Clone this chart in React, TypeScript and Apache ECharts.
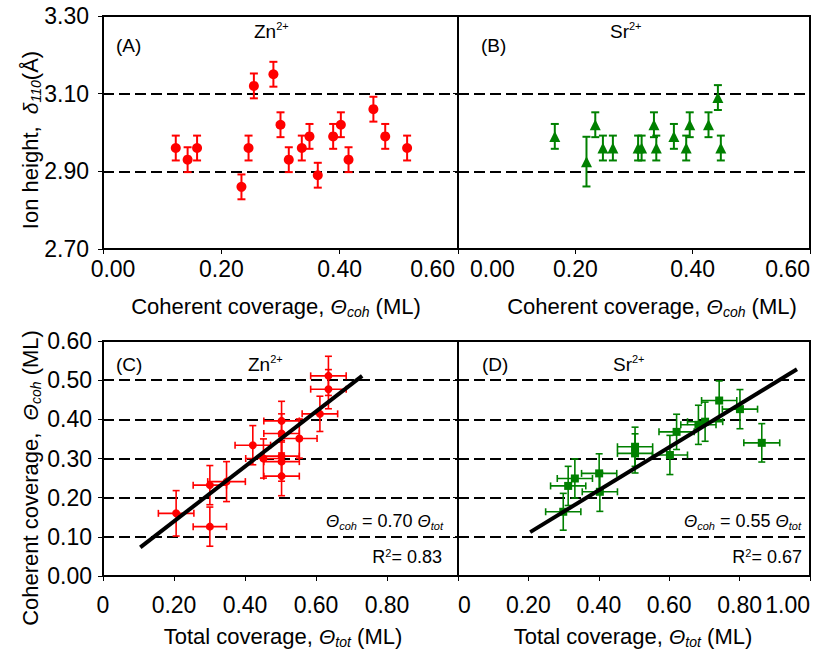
import React, { useEffect, useRef } from 'react';
import * as echarts from 'echarts';

// Panel A: Zn2+ ion height vs coherent coverage
const aCoh = [0.123, 0.143, 0.159, 0.234, 0.246, 0.255, 0.288, 0.300, 0.314, 0.336, 0.349, 0.363, 0.389, 0.402, 0.415, 0.457, 0.477, 0.514];
const aHeight = [2.96, 2.93, 2.96, 2.86, 2.96, 3.12, 3.15, 3.02, 2.93, 2.96, 2.99, 2.89, 2.99, 3.02, 2.93, 3.06, 2.99, 2.96];
const aErr = [0.032, 0.032, 0.032, 0.032, 0.032, 0.032, 0.032, 0.032, 0.032, 0.032, 0.032, 0.032, 0.032, 0.032, 0.032, 0.032, 0.032, 0.032];

// Panel B: Sr2+ ion height vs coherent coverage
const bCoh = [0.165, 0.219, 0.234, 0.247, 0.264, 0.307, 0.313, 0.334, 0.338, 0.368, 0.389, 0.395, 0.427, 0.443, 0.448];
const bHeight = [2.99, 2.925, 3.02, 2.96, 2.96, 2.96, 2.96, 3.02, 2.96, 2.99, 2.96, 3.02, 3.02, 3.09, 2.96];
const bErr = [0.032, 0.064, 0.032, 0.032, 0.032, 0.032, 0.032, 0.032, 0.032, 0.032, 0.032, 0.032, 0.032, 0.032, 0.032];

// Panel C: Zn2+ coherent vs total coverage
const cTot = [0.635, 0.635, 0.611, 0.503, 0.503, 0.553, 0.422, 0.452, 0.503, 0.503, 0.503, 0.301, 0.348, 0.206, 0.301];
const cCoh = [0.511, 0.477, 0.414, 0.396, 0.364, 0.351, 0.334, 0.300, 0.306, 0.292, 0.255, 0.232, 0.241, 0.160, 0.126];
const cTotErr = [0.05, 0.05, 0.05, 0.05, 0.05, 0.05, 0.05, 0.05, 0.05, 0.05, 0.05, 0.047, 0.053, 0.05, 0.047];
const cCohErr = [0.05, 0.05, 0.045, 0.05, 0.05, 0.05, 0.05, 0.05, 0.05, 0.05, 0.05, 0.05, 0.051, 0.058, 0.05];
const cFit = [[0.105, 0.073], [0.73, 0.511]];

// Panel D: Sr2+ coherent vs total coverage
const dTot = [0.742, 0.801, 0.702, 0.683, 0.621, 0.863, 0.602, 0.503, 0.503, 0.401, 0.332, 0.313, 0.299, 0.403];
const dCoh = [0.448, 0.426, 0.394, 0.386, 0.368, 0.340, 0.309, 0.330, 0.313, 0.262, 0.249, 0.230, 0.164, 0.215];
const dTotErr = [0.05, 0.05, 0.05, 0.05, 0.05, 0.051, 0.05, 0.05, 0.05, 0.05, 0.05, 0.05, 0.05, 0.05];
const dCohErr = [0.05, 0.05, 0.05, 0.05, 0.045, 0.049, 0.05, 0.05, 0.05, 0.05, 0.05, 0.05, 0.047, 0.05];
const dFit = [[0.205, 0.112], [0.963, 0.528]];

const FONT = '"Liberation Sans", Arial, Helvetica, sans-serif';
const RED = '#ff0000';
const GREEN = '#008000';
const TICK_FS = 23;

function errorBars(idx: number, xs: number[], ys: number[], xe: number[] | null, ye: number[], color: string, cap: number, lw: number) {
  return {
    type: 'custom',
    xAxisIndex: idx,
    yAxisIndex: idx,
    z: 3,
    encode: { x: 0, y: 1 },
    data: xs.map((x, i) => [x, ys[i], xe ? xe[i] : 0, ye[i]]),
    renderItem: (_p: any, api: any) => {
      const x = api.value(0);
      const y = api.value(1);
      const ex = api.value(2);
      const ey = api.value(3);
      const t = api.coord([x, y + ey]);
      const b = api.coord([x, y - ey]);
      const style = { stroke: color, lineWidth: lw, fill: 'none' };
      const ch: any[] = [
        { type: 'line', shape: { x1: t[0], y1: t[1], x2: b[0], y2: b[1] }, style },
        { type: 'line', shape: { x1: t[0] - cap, y1: t[1], x2: t[0] + cap, y2: t[1] }, style },
        { type: 'line', shape: { x1: b[0] - cap, y1: b[1], x2: b[0] + cap, y2: b[1] }, style },
      ];
      if (ex > 0) {
        const l = api.coord([x - ex, y]);
        const r = api.coord([x + ex, y]);
        ch.push({ type: 'line', shape: { x1: l[0], y1: l[1], x2: r[0], y2: r[1] }, style });
        ch.push({ type: 'line', shape: { x1: l[0], y1: l[1] - cap, x2: l[0], y2: l[1] + cap }, style });
        ch.push({ type: 'line', shape: { x1: r[0], y1: r[1] - cap, x2: r[0], y2: r[1] + cap }, style });
      }
      return { type: 'group', children: ch };
    },
  };
}

function markers(idx: number, xs: number[], ys: number[], symbol: string, size: number, color: string) {
  return {
    type: 'scatter',
    xAxisIndex: idx,
    yAxisIndex: idx,
    z: 4,
    symbol,
    symbolSize: size,
    itemStyle: { color, opacity: 1 },
    data: xs.map((x, i) => [x, ys[i]]),
  };
}

function fitLine(idx: number, pts: number[][]) {
  return {
    type: 'line',
    xAxisIndex: idx,
    yAxisIndex: idx,
    z: 5,
    symbol: 'none',
    lineStyle: { color: '#000', width: 4 },
    data: pts,
  };
}

const rich = {
  n: { fontFamily: FONT, fontSize: 22, color: '#000', lineHeight: 25 },
  i: { fontFamily: FONT, fontSize: 21, color: '#000', fontStyle: 'italic', lineHeight: 25 },
  s: { fontFamily: FONT, fontSize: 14, color: '#000', fontStyle: 'italic', lineHeight: 14, verticalAlign: 'bottom' },
};
const richSmall = {
  n: { fontFamily: FONT, fontSize: 19, color: '#000', lineHeight: 21 },
  i: { fontFamily: FONT, fontSize: 17, color: '#000', fontStyle: 'italic', lineHeight: 21 },
  s: { fontFamily: FONT, fontSize: 11, color: '#000', fontStyle: 'italic', lineHeight: 11, verticalAlign: 'bottom' },
  u: { fontFamily: FONT, fontSize: 11, color: '#000', lineHeight: 11, verticalAlign: 'top' },
};
const richEq = {
  n: { fontFamily: FONT, fontSize: 18, color: '#000', lineHeight: 20 },
  i: { fontFamily: FONT, fontSize: 17, color: '#000', fontStyle: 'italic', lineHeight: 20 },
  s: { fontFamily: FONT, fontSize: 11, color: '#000', fontStyle: 'italic', lineHeight: 11, verticalAlign: 'bottom' },
  u: { fontFamily: FONT, fontSize: 11, color: '#000', lineHeight: 11, verticalAlign: 'top' },
};

function txt(x: number, y: number, text: string, r: any, align = 'left', rotation = 0) {
  return {
    type: 'text',
    x,
    y,
    rotation,
    z: 10,
    style: { text, rich: r, align, verticalAlign: 'middle', fontFamily: FONT, fontSize: 18, fill: '#000' },
  };
}

const tickRich = {
  a: { fontFamily: FONT, fontSize: TICK_FS, color: '#000', padding: [0, 0, 0, 20] },
  b: { fontFamily: FONT, fontSize: TICK_FS, color: '#000', padding: [0, 3, 0, 0] },
  c: { fontFamily: FONT, fontSize: TICK_FS, color: '#000', padding: [0, 0, 0, 12] },
};

export default function App() {
  const ref = useRef<HTMLDivElement>(null);
  useEffect(() => {
    if (!ref.current) return;
    const chart = echarts.init(ref.current, null, { renderer: 'svg' });
    const gridBase = { show: true, borderColor: '#000', borderWidth: 2, backgroundColor: 'transparent', containLabel: false, outerBoundsMode: 'none' };
    const grids = [
      { ...gridBase, left: 103, top: 16, width: 355, height: 233 },
      { ...gridBase, left: 458, top: 16, width: 352, height: 233 },
      { ...gridBase, left: 103, top: 341, width: 355, height: 235 },
      { ...gridBase, left: 458, top: 341, width: 352, height: 235 },
    ];
    const axisLine = { show: true, lineStyle: { color: '#000', width: 2 } };
    const tick = { show: true, length: 5, inside: false, lineStyle: { color: '#000', width: 1 } };
    const labelBase = { fontFamily: FONT, fontSize: TICK_FS, color: '#000' };
    const dash = { show: true, lineStyle: { color: '#000', width: 2, type: [11, 5] } };

    const xAxis = [
      { gridIndex: 0, type: 'value', min: 0, max: 0.6, interval: 0.2, axisLine, axisTick: tick, splitLine: { show: false },
        axisLabel: { ...labelBase, margin: 8, alignMaxLabel: 'right', rich: tickRich,
          formatter: (v: number) => (v === 0 ? '{a|0.00}' : v > 0.59 ? '{b|0.60}' : v.toFixed(2)) } },
      { gridIndex: 1, type: 'value', min: 0, max: 0.6, interval: 0.2, axisLine, axisTick: tick, splitLine: { show: false },
        axisLabel: { ...labelBase, margin: 8, alignMinLabel: 'left', alignMaxLabel: 'right', rich: tickRich,
          formatter: (v: number) => (v === 0 ? '{c|0.00}' : v.toFixed(2)) } },
      { gridIndex: 2, type: 'value', min: 0, max: 1, interval: 0.2, axisLine, axisTick: tick, splitLine: { show: false },
        axisLabel: { ...labelBase, margin: 17, formatter: (v: number) => (v === 0 ? '0' : v > 0.99 ? '' : v.toFixed(2)) } },
      { gridIndex: 3, type: 'value', min: 0, max: 1, interval: 0.2, axisLine, axisTick: tick, splitLine: { show: false },
        axisLabel: { ...labelBase, margin: 17, alignMinLabel: 'left', alignMaxLabel: 'right', formatter: (v: number) => (v === 0 ? '0' : v.toFixed(2)) } },
    ];
    const yAxis = [
      { gridIndex: 0, type: 'value', min: 2.7, max: 3.3, interval: 0.2, axisLine, axisTick: tick, splitLine: dash,
        axisLabel: { ...labelBase, margin: 14, formatter: (v: number) => v.toFixed(2) } },
      { gridIndex: 1, type: 'value', min: 2.7, max: 3.3, interval: 0.2, axisLine, axisTick: tick, splitLine: dash,
        axisLabel: { show: false } },
      { gridIndex: 2, type: 'value', min: 0, max: 0.6, interval: 0.1, axisLine, axisTick: tick, splitLine: dash,
        axisLabel: { ...labelBase, margin: 11, formatter: (v: number) => v.toFixed(2) } },
      { gridIndex: 3, type: 'value', min: 0, max: 0.6, interval: 0.1, axisLine, axisTick: tick, splitLine: dash,
        axisLabel: { show: false } },
    ];

    const series = [
      errorBars(0, aCoh, aHeight, null, aErr, RED, 4, 2),
      markers(0, aCoh, aHeight, 'circle', 10, RED),
      errorBars(1, bCoh, bHeight, null, bErr, GREEN, 4, 2),
      markers(1, bCoh, bHeight, 'triangle', 11, GREEN),
      errorBars(2, cTot, cCoh, cTotErr, cCohErr, RED, 3.5, 1.6),
      markers(2, cTot, cCoh, 'circle', 8, RED),
      fitLine(2, cFit),
      errorBars(3, dTot, dCoh, dTotErr, dCohErr, GREEN, 3.5, 1.6),
      markers(3, dTot, dCoh, 'rect', 8, GREEN),
      fitLine(3, dFit),
    ];

    const graphic = [
      txt(276, 306, '{n|Coherent coverage, }{i|Θ}{s|coh}{n| (ML)}', rich, 'center'),
      txt(652, 306, '{n|Coherent coverage, }{i|Θ}{s|coh}{n| (ML)}', rich, 'center'),
      txt(283, 636, '{n|Total coverage, }{i|Θ}{s|tot}{n| (ML)}', rich, 'center'),
      txt(633, 636, '{n|Total coverage, }{i|Θ}{s|tot}{n| (ML)}', rich, 'center'),
      txt(30, 140, '{n|Ion height,  }{i|δ}{s|110}{n|(Å)}', rich, 'center', Math.PI / 2),
      txt(30, 478, '{n|Coherent coverage,  }{i|Θ}{s|coh}{n| (ML)}', rich, 'center', Math.PI / 2),
      txt(116, 45, '{n|(A)}', richSmall),
      txt(254, 31, '{n|Zn}{u|2+}', richSmall),
      txt(481, 45, '{n|(B)}', richSmall),
      txt(610, 31, '{n|Sr}{u|2+}', richSmall),
      txt(116, 364, '{n|(C)}', richSmall),
      txt(248, 364, '{n|Zn}{u|2+}', richSmall),
      txt(482, 364, '{n|(D)}', richSmall),
      txt(613, 364, '{n|Sr}{u|2+}', richSmall),
      txt(443, 521, '{i|Θ}{s|coh}{n| = 0.70 }{i|Θ}{s|tot}', richEq, 'right'),
      txt(442, 557, '{n|R}{u|2}{n|= 0.83}', richEq, 'right'),
      txt(801, 521, '{i|Θ}{s|coh}{n| = 0.55 }{i|Θ}{s|tot}', richEq, 'right'),
      txt(802, 557, '{n|R}{u|2}{n|= 0.67}', richEq, 'right'),
    ];

    chart.setOption({
      animation: false,
      backgroundColor: '#fff',
      grid: grids,
      xAxis,
      yAxis,
      series,
      graphic,
    } as any);
    return () => chart.dispose();
  }, []);
  return <div ref={ref} style={{ position: 'fixed', left: 0, top: 0, width: 817, height: 654 }} />;
}
